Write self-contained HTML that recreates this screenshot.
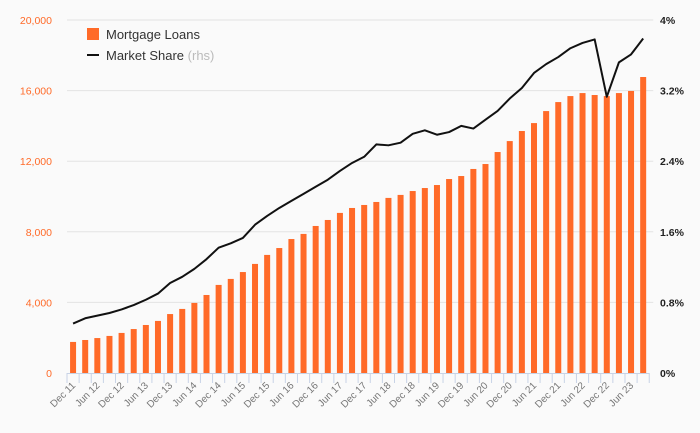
<!DOCTYPE html>
<html><head><meta charset="utf-8"><style>
body{margin:0;background:#fafafa;}
svg{display:block;font-family:"Liberation Sans",sans-serif;}
</style></head><body>
<svg id="c" width="700" height="433" viewBox="0 0 700 433">
<rect width="700" height="433" fill="#fafafa"/>
<g id="grid"></g><g id="bars"></g><g id="axes"></g><g id="line"></g>
<g>
<rect x="87" y="28" width="12" height="12" fill="#ff6a28"/>
<text x="106" y="39" font-size="13" fill="#333">Mortgage Loans</text>
<rect x="87" y="54" width="12" height="2" fill="#111"/>
<text x="106" y="60" font-size="13" fill="#333">Market Share <tspan fill="#bbb">(rhs)</tspan></text>
</g>
</svg>
<script>
const categories=["Dec 11","Mar 12","Jun 12","Sep 12","Dec 12","Mar 13","Jun 13","Sep 13","Dec 13","Mar 14","Jun 14","Sep 14","Dec 14","Mar 15","Jun 15","Sep 15","Dec 15","Mar 16","Jun 16","Sep 16","Dec 16","Mar 17","Jun 17","Sep 17","Dec 17","Mar 18","Jun 18","Sep 18","Dec 18","Mar 19","Jun 19","Sep 19","Dec 19","Mar 20","Jun 20","Sep 20","Dec 20","Mar 21","Jun 21","Sep 21","Dec 21","Mar 22","Jun 22","Sep 22","Dec 22","Mar 23","Jun 23","Sep 23"];
const loans=[1760,1870,1980,2100,2270,2490,2720,2950,3340,3630,3970,4420,4990,5330,5720,6180,6690,7080,7590,7880,8330,8670,9070,9350,9520,9690,9920,10090,10310,10480,10650,10990,11160,11560,11840,12520,13140,13710,14160,14840,15350,15690,15860,15750,15690,15860,15980,16770];
const share=[0.56,0.62,0.65,0.68,0.72,0.77,0.83,0.90,1.02,1.09,1.18,1.29,1.42,1.47,1.53,1.68,1.78,1.87,1.95,2.03,2.11,2.19,2.29,2.38,2.45,2.59,2.58,2.61,2.71,2.75,2.70,2.73,2.80,2.77,2.87,2.97,3.11,3.23,3.40,3.50,3.58,3.68,3.74,3.78,3.13,3.52,3.61,3.79];
const leftTicks=[0,4000,8000,12000,16000,20000];
const rightTicks=[0,0.8,1.6,2.4,3.2,4];
const NS="http://www.w3.org/2000/svg";
const x0=67,step=12.13,y0=373,yTop=20;
const xC=i=>x0+step*(i+0.5);
const yL=v=>y0-(v/20000)*(y0-yTop);
const yR=v=>y0-(v/4)*(y0-yTop);
function mk(t,a,p){const e=document.createElementNS(NS,t);for(const k in a)e.setAttribute(k,a[k]);p.appendChild(e);return e;}
const G=document.getElementById('grid'),B=document.getElementById('bars'),A=document.getElementById('axes'),L=document.getElementById('line');
const xEnd=x0+step*categories.length+4;
leftTicks.forEach((t,k)=>{
 if(t>0){const g=mk('line',{x1:x0,x2:xEnd,y1:yL(t),y2:yL(t),stroke:'#e3e3e3','stroke-width':1},G);
 
 }
 const tx=mk('text',{x:52,y:yL(t)+4,'text-anchor':'end','font-size':10.5,fill:'#ff6a28'},A);
 tx.textContent=t.toLocaleString('en-US');
 
 
 const r=mk('text',{x:660,y:yR(rightTicks[k])+4,'font-size':10.5,'font-weight':'bold',fill:'#222'},A);
 r.textContent=rightTicks[k]+'%';
 
 
});
loans.forEach((v,i)=>{
 const b=mk('rect',{x:xC(i)-3,y:yL(v),width:6,height:y0-yL(v),fill:'#ff6a28'},B);
 
 
});
const ax=mk('line',{x1:x0,x2:x0+step*categories.length,y1:y0+0.5,y2:y0+0.5,stroke:'#c8d3e6','stroke-width':1},A);


for(let i=0;i<=categories.length;i++){
 const t=mk('line',{x1:x0+step*i,x2:x0+step*i,y1:y0,y2:y0+10,stroke:'#c8d3e6','stroke-width':1},A);
 
 
}
categories.forEach((c,i)=>{
 if(i%2)return;
 const x=xC(i)+3,y=386;
 const t=mk('text',{x:x,y:y,'text-anchor':'end','font-size':10,fill:'#777',transform:`rotate(-45 ${x} ${y})`},A);
 t.textContent=c;
 
 
});
const p=mk('polyline',{points:share.map((v,i)=>xC(i)+','+yR(v)).join(' '),fill:'none',stroke:'#111','stroke-width':2,'stroke-linejoin':'round'},L);


</script>
</body></html>
